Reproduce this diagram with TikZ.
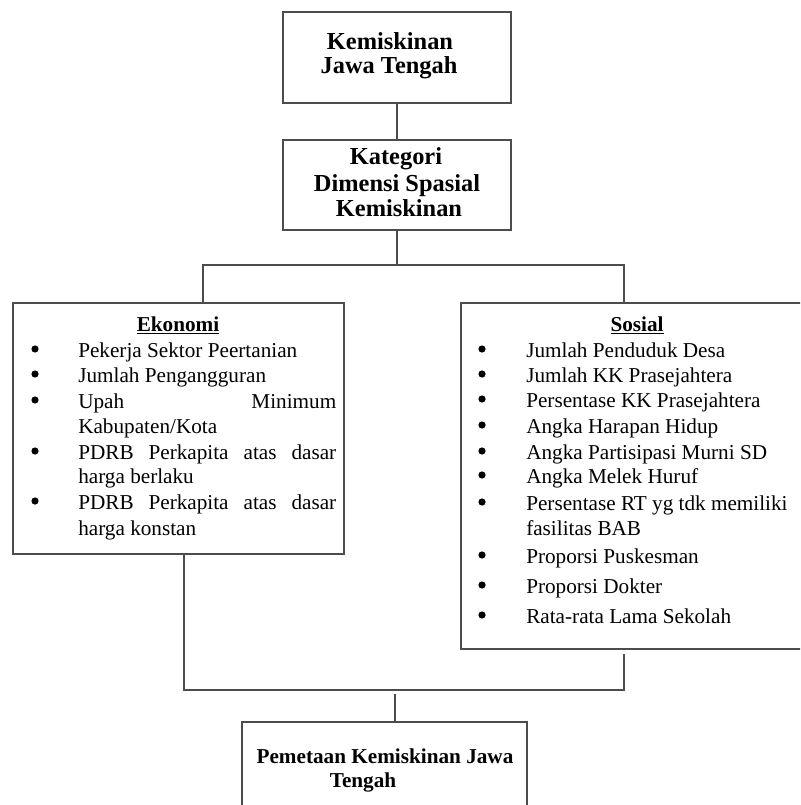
\documentclass[tikz,border=0pt]{standalone}
\usepackage{fontspec}
\setmainfont{Liberation Serif}
\usetikzlibrary{fit}
\newcommand{\regfont}{\fontsize{15.9pt}{18pt}\selectfont}
\newcommand{\bigbold}{\fontsize{18.3pt}{21pt}\selectfont\bfseries}
\newcommand{\regbold}{\fontsize{15.9pt}{18pt}\selectfont\bfseries}
\begin{document}
\begin{tikzpicture}[x=0.75pt,y=-0.75pt,
  box/.style={draw=black!70, line width=0.8pt, rectangle, inner sep=0pt},
  conn/.style={draw=black!70, line width=0.8pt},
  rtxt/.style={inner sep=0pt, font=\regfont},
  btxt/.style={inner sep=0pt, font=\bigbold},
  bbtxt/.style={inner sep=0pt, font=\regbold},
  bul/.style={circle, fill=black, inner sep=0pt, minimum size=5.4pt}]
\useasboundingbox (0,0) rectangle (800,805);
\clip (0,0) rectangle (800,805);

% boxes
\node[box, fit={(283,12) (511,103)}] (top) {};
\node[box, fit={(283,140) (511,230)}] (kat) {};
\node[box, fit={(13,303) (344,554)}] (eko) {};
\node[box, fit={(461,303) (813,649)}] (sos) {};
\node[box, fit={(242,722) (527,840)}] (pem) {};

% top texts
\node[btxt, anchor=base] (t1) at (390,50) {Kemiskinan};
\node[btxt, anchor=base] (t2) at (389,74) {Jawa Tengah};
\node[btxt, anchor=base] (k1) at (396,165) {Kategori};
\node[btxt, anchor=base] (k2) at (397,192) {Dimensi Spasial};
\node[btxt, anchor=base] (k3) at (399,217) {Kemiskinan};

% Ekonomi
\node[bbtxt, anchor=base] (eh) at (178,331) {\underline{Ekonomi}};
\foreach \y [count=\i] in {357,382,408,459,509}
  \node[bul] (eb\i) at (35,\y-8) {};
\node[rtxt, anchor=base west] (e1) at (78,357) {Pekerja Sektor Peertanian};
\node[rtxt, anchor=base west] (e2) at (78,382) {Jumlah Pengangguran};
\node[rtxt, anchor=base west] (e3) at (78,408) {\hbox to 193.5pt{Upah\hfill Minimum}};
\node[rtxt, anchor=base west] (e4) at (78,433) {Kabupaten/Kota};
\node[rtxt, anchor=base west] (e5) at (78,459) {\hbox to 193.5pt{PDRB\hfill Perkapita\hfill atas\hfill dasar}};
\node[rtxt, anchor=base west] (e6) at (78,483) {harga berlaku};
\node[rtxt, anchor=base west] (e7) at (78,509) {\hbox to 193.5pt{PDRB\hfill Perkapita\hfill atas\hfill dasar}};
\node[rtxt, anchor=base west] (e8) at (78,535) {harga konstan};

% Sosial
\node[bbtxt, anchor=base] (sh) at (637,331) {\underline{Sosial}};
\foreach \y [count=\i] in {357,382,407,433,459,483,510,563,593,623}
  \node[bul] (sb\i) at (482,\y-8) {};
\node[rtxt, anchor=base west] (s1) at (526,357) {Jumlah Penduduk Desa};
\node[rtxt, anchor=base west] (s2) at (526,382) {Jumlah KK Prasejahtera};
\node[rtxt, anchor=base west] (s3) at (526,407) {Persentase KK Prasejahtera};
\node[rtxt, anchor=base west] (s4) at (526,433) {Angka Harapan Hidup};
\node[rtxt, anchor=base west] (s5) at (526,459) {Angka Partisipasi Murni SD};
\node[rtxt, anchor=base west] (s6) at (526,483) {Angka Melek Huruf};
\node[rtxt, anchor=base west] (s7) at (526,510) {Persentase RT yg tdk memiliki};
\node[rtxt, anchor=base west] (s8) at (526,535) {fasilitas BAB};
\node[rtxt, anchor=base west] (s9) at (526,563) {Proporsi Puskesman};
\node[rtxt, anchor=base west] (s10) at (526,593) {Proporsi Dokter};
\node[rtxt, anchor=base west] (s11) at (526,623) {Rata-rata Lama Sekolah};

% bottom text
\node[bbtxt, anchor=base] (p1) at (385,763) {Pemetaan Kemiskinan Jawa};
\node[bbtxt, anchor=base] (p2) at (363,787) {Tengah};

% connectors
\coordinate (split) at (397,265);
\coordinate (ekoIn) at (203,303);
\coordinate (sosIn) at (624,303);
\draw[conn] (top.south) -- (kat.north);
\draw[conn] (kat.south) -- (split);
\draw[conn] (ekoIn) |- (split) -| (sosIn);
\coordinate (ekoOut) at (184,554);
\coordinate (sosOut) at (624,654);
\coordinate (mergeL) at (184,690);
\coordinate (mergeR) at (624,690);
\draw[conn] (ekoOut) -- (mergeL) -- (mergeR) -- (sosOut);
\coordinate (pemIn) at (395,694);
\draw[conn] (pemIn) -- (pemIn |- pem.north);
\end{tikzpicture}
\end{document}
